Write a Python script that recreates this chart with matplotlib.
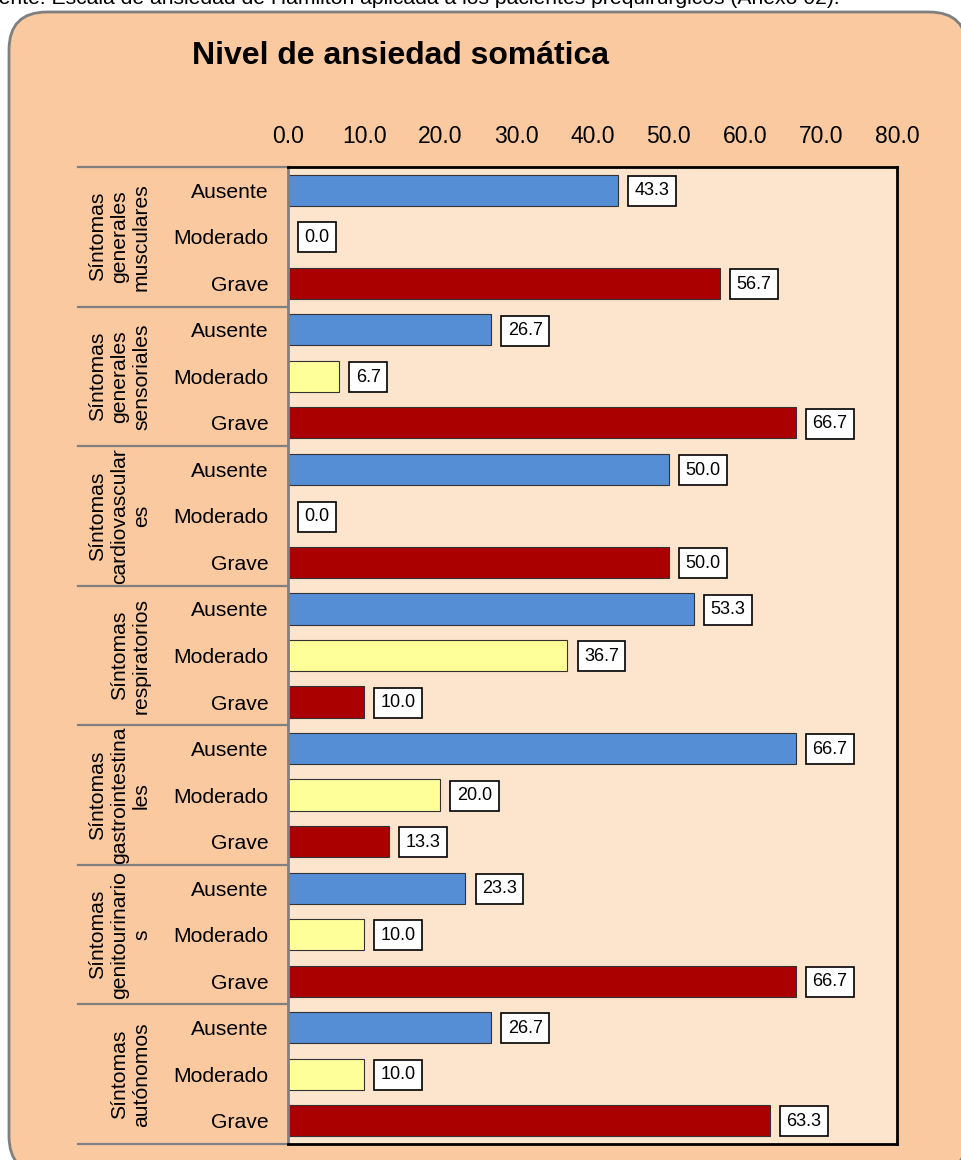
import numpy as np
import matplotlib
matplotlib.use("Agg")
import matplotlib.pyplot as plt
from matplotlib.patches import FancyBboxPatch
from matplotlib.transforms import IdentityTransform, blended_transform_factory

plt.rcParams['font.family'] = ['Liberation Sans', 'DejaVu Sans']

# datos
grupos = [
    "Síntomas\ngenerales\nmusculares",
    "Síntomas\ngenerales\nsensoriales",
    "Síntomas\ncardiovascular\nes",
    "Síntomas\nrespiratorios",
    "Síntomas\ngastrointestina\nles",
    "Síntomas\ngenitourinario\ns",
    "Síntomas\nautónomos",
]
niveles = ["Ausente", "Moderado", "Grave"]
ausente = [43.3, 26.7, 50.0, 53.3, 66.7, 23.3, 26.7]
moderado = [0.0, 6.7, 0.0, 36.7, 20.0, 10.0, 10.0]
grave = [56.7, 66.7, 50.0, 10.0, 13.3, 66.7, 63.3]
colores = ["#558ED5", "#FFFF99", "#AA0000"]

fondo = "#FAC9A0"
fondo_ax = "#FDE4CD"

fig = plt.figure(figsize=(9.61, 11.6), dpi=100)
fig.patch.set_facecolor("white")

# marco redondeado (pixeles)
marco = FancyBboxPatch((9, -14), 958, 1162,
                       boxstyle="round,pad=0,rounding_size=38",
                       transform=IdentityTransform(),
                       facecolor=fondo, edgecolor="#7F7F7F", linewidth=2,
                       zorder=-10)
fig.add_artist(marco)

fig.text(840 / 961, 1 - 4 / 1160,
         "Fuente: Escala de ansiedad de Hamilton aplicada a los pacientes prequirúrgicos (Anexo 02).",
         ha="right", va="baseline", fontsize=15.2)

fig.text(401 / 961, 1 - 56 / 1160, "Nivel de ansiedad somática",
         ha="center", va="center", fontsize=23, fontweight="bold")

ax = fig.add_axes([288 / 961, 1 - 1144 / 1160, 609 / 961, 977 / 1160])
ax.set_zorder(1)
ax.set_facecolor(fondo_ax)

series = [ausente, moderado, grave]
n = len(grupos)
posiciones = []
etiquetas = []
for g in range(n):
    for k in range(3):
        y = g * 3 + k
        v = series[k][g]
        posiciones.append(y)
        etiquetas.append(niveles[k])
        ax.barh(y, v, height=0.67, color=colores[k],
                edgecolor="#333333" if v > 0 else "none", linewidth=0.8)
        ax.annotate(f"{v:.1f}", xy=(v, y), xytext=(12, -0.5),
                    textcoords="offset points", ha="left", va="center",
                    fontsize=13,
                    bbox=dict(boxstyle="square,pad=0.36", facecolor="white",
                              edgecolor="black", linewidth=1.2))

ax.set_xlim(0, 80)
ax.set_ylim(n * 3 - 0.5, -0.5)
ax.set_xticks(np.arange(0, 81, 10))
ax.set_xticklabels([f"{t:.1f}" for t in np.arange(0, 81, 10)])
ax.xaxis.tick_top()
ax.tick_params(axis="x", length=0, pad=14, labelsize=16.5)
ax.set_yticks(posiciones)
ax.set_yticklabels(etiquetas)
ax.tick_params(axis="y", length=0, pad=14, labelsize=15.2)

for lado in ["top", "right", "bottom"]:
    ax.spines[lado].set_color("black")
    ax.spines[lado].set_linewidth(2)
ax.spines["left"].set_color("#808080")
ax.spines["left"].set_linewidth(2)

# separadores y etiquetas de grupo
tr = blended_transform_factory(ax.transAxes, ax.transData)
x0 = (78 - 288) / 609
for g in range(n + 1):
    yb = g * 3 - 0.5
    ax.plot([x0, 0], [yb, yb], transform=tr, color="#808080",
            linewidth=1.6, clip_on=False)
for g, nombre in enumerate(grupos):
    ax.text((151 - 288) / 609, g * 3 + 1, nombre, transform=tr,
            rotation=90, ha="right", va="center", multialignment="center",
            fontsize=15.2, linespacing=1.2)

fig.savefig("out.png", dpi=100, facecolor="white")
